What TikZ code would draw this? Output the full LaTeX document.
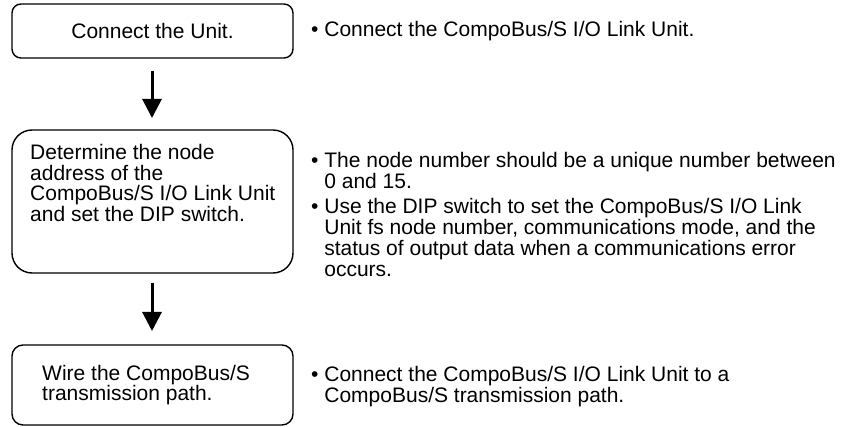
\documentclass[tikz,border=0pt]{standalone}
\usepackage{fontspec}
\setmainfont{Liberation Sans}
\usetikzlibrary{arrows.meta}
\begin{document}
\begin{tikzpicture}[x=1pt,y=-1pt,
  stepbox/.style={draw=black,line width=1.4pt,minimum width=281pt,inner sep=0pt},
  txt/.style={inner sep=0pt,font=\fontsize{21}{20.4}\selectfont,align=left},
  flowarrow/.style={line width=3pt,-{Triangle[width=19pt,length=19pt]}}
]
\useasboundingbox (0,0) rectangle (867,427);
% boxes
\node[stepbox,rounded corners=9pt,minimum height=54pt] (b1) at (152.5,31) {};
\node[stepbox,rounded corners=20pt,minimum height=143pt] (b2) at (152.5,201.5) {};
\node[stepbox,rounded corners=11pt,minimum height=80pt] (b3) at (152.5,385) {};
% box texts
\node[txt] (t1) at (b1.center) {Connect the Unit.};
\node[txt,anchor=west] (t2) at (30,183) {Determine the node\\address of the\\CompoBus/S I/O Link Unit\\and set the DIP switch.};
\node[txt,anchor=west] (t3) at (42,385) {Wire the CompoBus/S\\transmission path.};
% arrows
\coordinate (a1s) at (152,71);
\coordinate (a1e) at (152,118);
\coordinate (a2s) at (152,283);
\coordinate (a2e) at (152,331);
\draw[flowarrow] (a1s) -- (a1e);
\draw[flowarrow] (a2s) -- (a2e);
% notes
\node[txt,anchor=west] (n1) at (311,31) {\textbullet\ Connect the CompoBus/S I/O Link Unit.};
\node[txt,anchor=north west] (n2) at (311,152) {\begin{tabular}{@{}l@{\ }l@{}}
\textbullet & The node number should be a unique number between\\
 & 0 and 15.\\[3pt]
\textbullet & Use the DIP switch to set the CompoBus/S I/O Link\\
 & Unit fs node number, communications mode, and the\\
 & status of output data when a communications error\\
 & occurs.
\end{tabular}};
\node[txt,anchor=north west] (n3) at (311,366) {\begin{tabular}{@{}l@{\ }l@{}}
\textbullet & Connect the CompoBus/S I/O Link Unit to a\\
 & CompoBus/S transmission path.
\end{tabular}};
\end{tikzpicture}
\end{document}
